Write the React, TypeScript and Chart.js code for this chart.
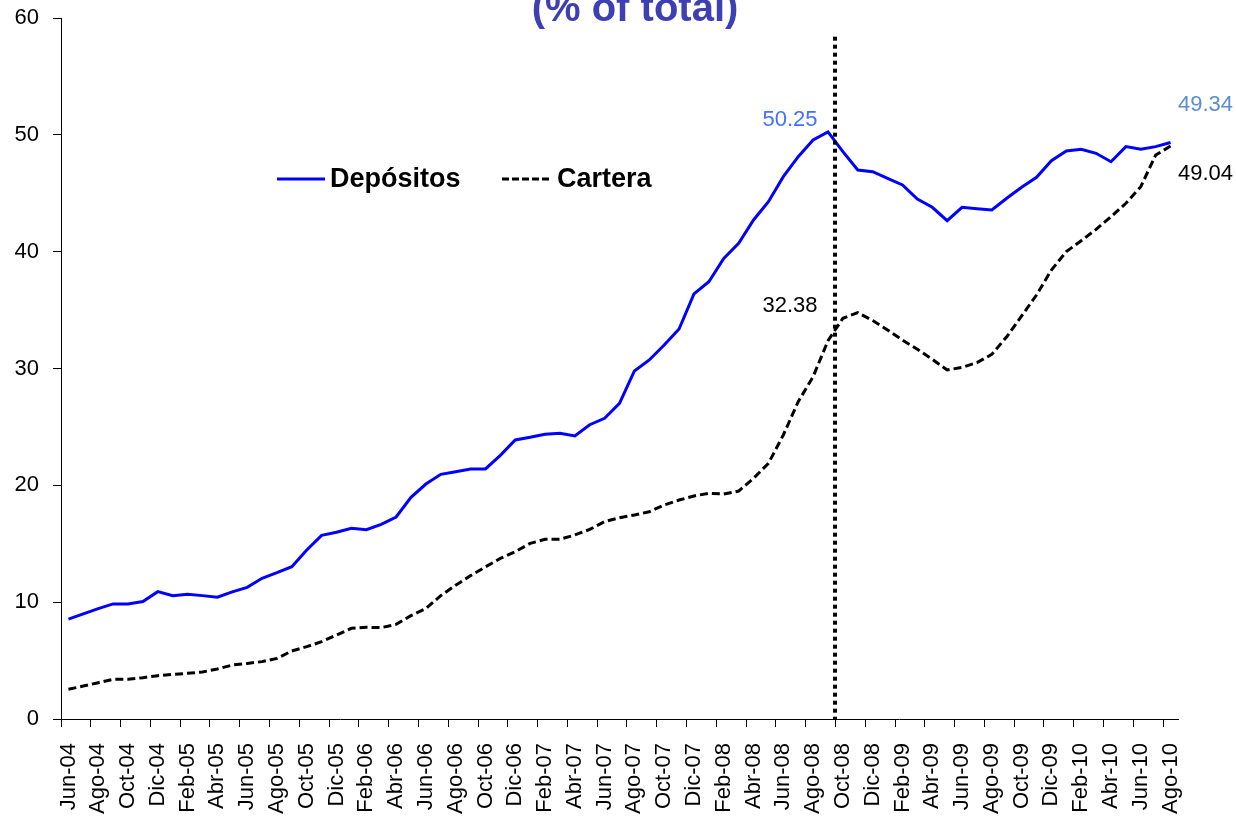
import React, { useEffect, useRef } from "react";
import { Chart, registerables } from "chart.js";

Chart.register(...registerables);

const months: string[] = [
  "Jun-04", "Jul-04", "Ago-04", "Sep-04", "Oct-04", "Nov-04", "Dic-04",
  "Ene-05", "Feb-05", "Mar-05", "Abr-05", "May-05", "Jun-05", "Jul-05", "Ago-05", "Sep-05", "Oct-05", "Nov-05", "Dic-05",
  "Ene-06", "Feb-06", "Mar-06", "Abr-06", "May-06", "Jun-06", "Jul-06", "Ago-06", "Sep-06", "Oct-06", "Nov-06", "Dic-06",
  "Ene-07", "Feb-07", "Mar-07", "Abr-07", "May-07", "Jun-07", "Jul-07", "Ago-07", "Sep-07", "Oct-07", "Nov-07", "Dic-07",
  "Ene-08", "Feb-08", "Mar-08", "Abr-08", "May-08", "Jun-08", "Jul-08", "Ago-08", "Sep-08", "Oct-08", "Nov-08", "Dic-08",
  "Ene-09", "Feb-09", "Mar-09", "Abr-09", "May-09", "Jun-09", "Jul-09", "Ago-09", "Sep-09", "Oct-09", "Nov-09", "Dic-09",
  "Ene-10", "Feb-10", "Mar-10", "Abr-10", "May-10", "Jun-10", "Jul-10", "Ago-10",
];

const depositos: number[] = [
  8.55, 9.0, 9.45, 9.85, 9.85, 10.05, 10.9,
  10.56, 10.67, 10.56, 10.42, 10.88, 11.27, 12.04, 12.52, 13.04, 14.47, 15.72, 15.98,
  16.32, 16.2, 16.66, 17.29, 18.97, 20.11, 20.94, 21.17, 21.4, 21.4, 22.57, 23.88,
  24.11, 24.37, 24.45, 24.22, 25.19, 25.74, 27.02, 29.79, 30.73, 32.01, 33.38, 36.38,
  37.43, 39.43, 40.72, 42.71, 44.28, 46.42, 48.13, 49.56, 50.25, 48.56, 46.99, 46.85,
  46.28, 45.71, 44.51, 43.8, 42.65, 43.8, 43.68, 43.57, 44.57, 45.51, 46.37, 47.79,
  48.62, 48.76, 48.42, 47.7, 48.99, 48.76, 48.99, 49.34,
];

const cartera: number[] = [
  2.54, 2.82, 3.11, 3.4, 3.4, 3.54, 3.71,
  3.82, 3.91, 4.02, 4.28, 4.62, 4.76, 4.91, 5.19, 5.82, 6.19, 6.62, 7.19,
  7.76, 7.85, 7.82, 8.1, 8.85, 9.45, 10.56, 11.45, 12.27, 13.02, 13.75, 14.32,
  15.03, 15.38, 15.38, 15.75, 16.23, 16.89, 17.23, 17.46, 17.74, 18.32, 18.74, 19.09,
  19.32, 19.26, 19.51, 20.6, 21.88, 24.31, 27.16, 29.3, 32.38, 34.3, 34.78, 34.1,
  33.3, 32.44, 31.64, 30.79, 29.87, 30.1, 30.5, 31.21, 32.72, 34.5, 36.29, 38.43,
  40.0, 40.94, 41.91, 42.99, 44.14, 45.56, 48.27, 49.04,
];

const seriesNames: string[] = ["Depósitos", "Cartera"];
const titleText = "(% of total)";
const yTicks = { min: 0, max: 60, step: 10 };

// annotated points: [series index, month label, text]
const annotations: { series: number; month: string; text: string; color: string; dx: number; dy: number }[] = [
  { series: 0, month: "Sep-08", text: "50.25", color: "#4470FF", dx: -38, dy: -12 },
  { series: 1, month: "Sep-08", text: "32.38", color: "#000000", dx: -38, dy: -35 },
  { series: 0, month: "Ago-10", text: "49.34", color: "#5A8ED2", dx: 35, dy: -38 },
  { series: 1, month: "Ago-10", text: "49.04", color: "#000000", dx: 35, dy: 28 },
];

// dotted marker between Sep-08 and Oct-08
const markerAfterMonth = "Sep-08";
const markerTopValue = 58.4;

const FONT = "'Liberation Sans', Arial, Helvetica, sans-serif";

const overlayPlugin = {
  id: "overlay",
  afterDatasetsDraw(chart: any) {
    const ctx = chart.ctx;
    const xs = chart.scales.x;
    const ys = chart.scales.y;

    // vertical dotted line
    const idx = months.indexOf(markerAfterMonth) + 0.5;
    const xm = Math.round(xs.getPixelForValue(idx));
    ctx.save();
    ctx.strokeStyle = "#000";
    ctx.lineWidth = 4;
    ctx.setLineDash([4, 4]);
    ctx.beginPath();
    ctx.moveTo(xm, ys.getPixelForValue(markerTopValue));
    ctx.lineTo(xm, ys.getPixelForValue(0));
    ctx.stroke();
    ctx.restore();

    // data labels
    ctx.save();
    ctx.font = `22px ${FONT}`;
    ctx.textAlign = "center";
    ctx.textBaseline = "middle";
    annotations.forEach((a) => {
      const meta = chart.getDatasetMeta(a.series);
      const i = months.indexOf(a.month);
      const pt = meta.data[i];
      ctx.fillStyle = a.color;
      ctx.fillText(a.text, pt.x + a.dx, pt.y + a.dy);
    });
    ctx.restore();

    // title (cropped at top)
    ctx.save();
    ctx.font = `bold 40px ${FONT}`;
    ctx.fillStyle = "#3F3FB4";
    ctx.textAlign = "center";
    ctx.textBaseline = "alphabetic";
    ctx.fillText(titleText, 635, 21);
    ctx.restore();

    // legend
    ctx.save();
    ctx.font = `bold 27px ${FONT}`;
    ctx.textBaseline = "middle";
    ctx.textAlign = "left";
    const ly = 179;
    ctx.lineWidth = 3;
    ctx.strokeStyle = "#0000FF";
    ctx.beginPath();
    ctx.moveTo(277, ly);
    ctx.lineTo(325, ly);
    ctx.stroke();
    ctx.fillStyle = "#000";
    ctx.fillText(seriesNames[0], 330, ly + 1);
    ctx.strokeStyle = "#000";
    ctx.setLineDash([7, 3]);
    ctx.beginPath();
    ctx.moveTo(502, ly);
    ctx.lineTo(552, ly);
    ctx.stroke();
    ctx.setLineDash([]);
    ctx.fillText(seriesNames[1], 557, ly + 1);
    ctx.restore();
  },
};

export default function App() {
  const canvasRef = useRef<HTMLCanvasElement | null>(null);

  useEffect(() => {
    if (!canvasRef.current) return;
    const chart = new Chart(canvasRef.current, {
      type: "line",
      data: {
        labels: months,
        datasets: [
          {
            label: seriesNames[0],
            data: depositos,
            borderColor: "#0000FF",
            borderWidth: 3,
            pointRadius: 0,
            tension: 0,
            fill: false,
          },
          {
            label: seriesNames[1],
            data: cartera,
            borderColor: "#000000",
            borderWidth: 3,
            borderDash: [8, 4],
            pointRadius: 0,
            tension: 0,
            fill: false,
          },
        ],
      },
      options: {
        animation: false,
        responsive: false,
        maintainAspectRatio: false,
        layout: { padding: { left: 0, top: 18, right: 58, bottom: 0 } },
        plugins: {
          legend: { display: false },
          title: { display: false },
          tooltip: { enabled: false },
        },
        scales: {
          x: {
            type: "category",
            offset: true,
            grid: {
              offset: true,
              drawOnChartArea: false,
              drawTicks: true,
              tickLength: 8,
              lineWidth: 1,
              color: (c: any) => (c.index !== undefined && c.index % 2 === 0 ? "#000" : "rgba(0,0,0,0)"),
            },
            border: { display: true, color: "#000", width: 1 },
            ticks: {
              autoSkip: false,
              maxRotation: 90,
              minRotation: 90,
              padding: 16,
              color: "#000",
              font: { family: FONT, size: 22 },
              callback: (_v: any, i: number) => (i % 2 === 0 ? months[i] : ""),
            },
            afterFit: (s: any) => {
              s.height = 98;
            },
          },
          y: {
            min: yTicks.min,
            max: yTicks.max,
            grid: {
              drawOnChartArea: false,
              drawTicks: true,
              tickLength: 8,
              color: "#000",
            },
            border: { display: true, color: "#000", width: 1 },
            ticks: {
              stepSize: yTicks.step,
              padding: 14,
              color: "#000",
              font: { family: FONT, size: 22 },
            },
            afterFit: (s: any) => {
              s.width = 61;
              s.paddingTop = 0;
              s.paddingBottom = 0;
            },
          },
        },
      },
      plugins: [overlayPlugin],
    });
    return () => chart.destroy();
  }, []);

  return (
    <div style={{ position: "fixed", left: 0, top: 0, width: 1236, height: 817, background: "#fff" }}>
      <canvas ref={canvasRef} width={1236} height={817} style={{ width: 1236, height: 817 }} />
    </div>
  );
}
